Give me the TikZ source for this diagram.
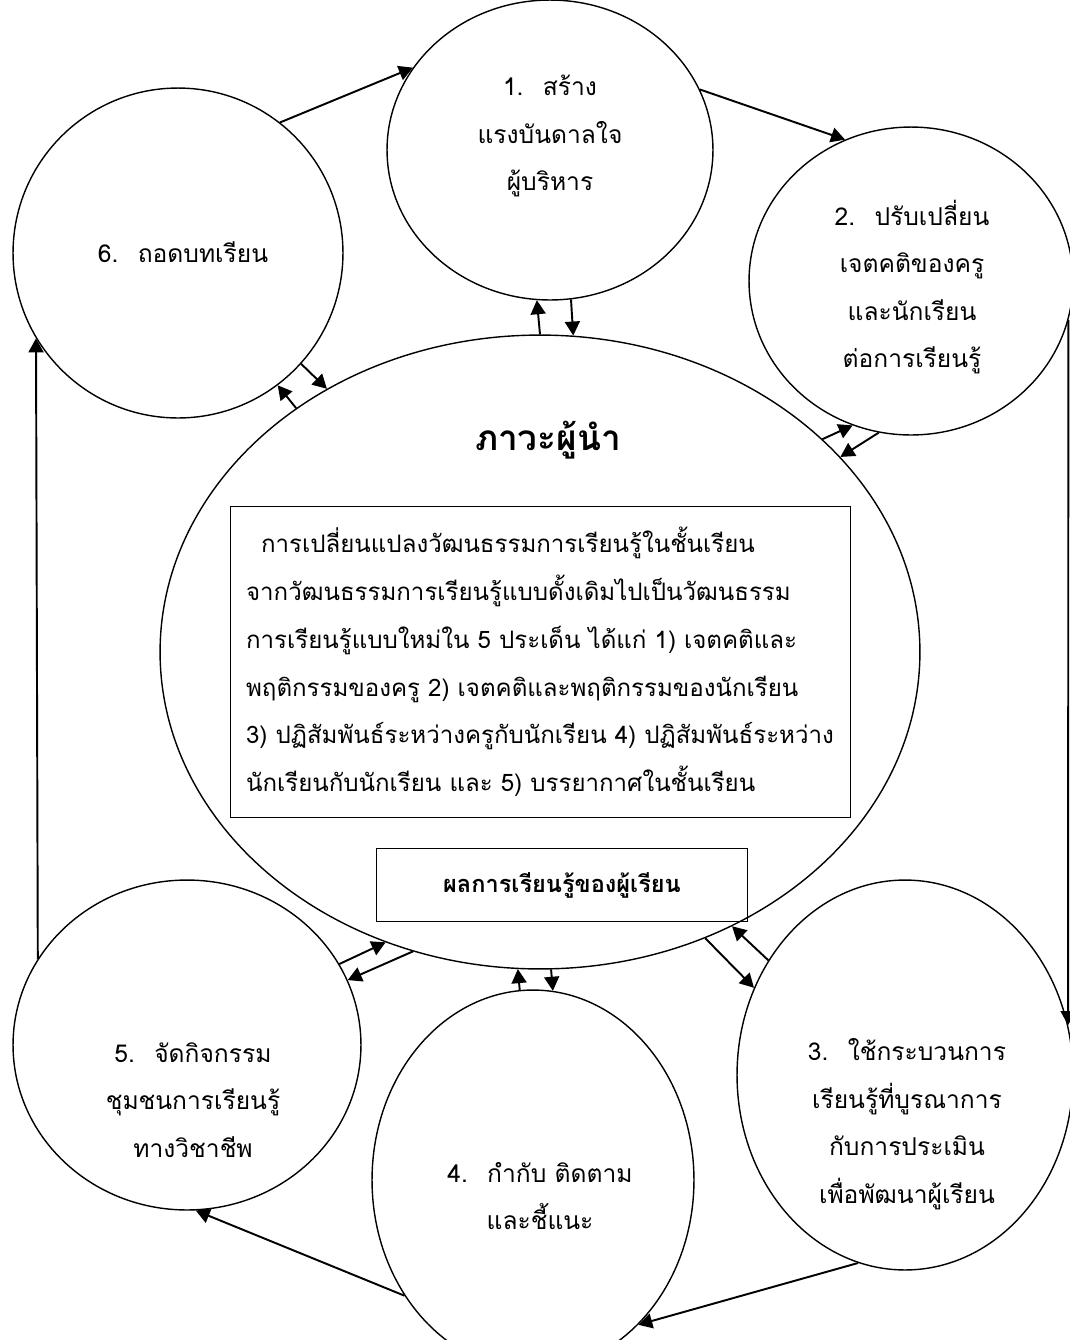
\documentclass[tikz,border=0pt]{standalone}
\usepackage{fontspec}
\newfontfamily\thaifont[Script=Thai]{Loma}
\usetikzlibrary{shapes.geometric, arrows.meta, positioning}

\begin{document}
\begin{tikzpicture}[
    x=0.02cm, y=-0.02cm,
    bubble/.style={ellipse, draw, line width=0.8pt, inner sep=0pt},
    arrow/.style={-{Triangle[length=8pt,width=8.5pt]}, line width=1.1pt},
    caption/.style={font=\fontsize{14}{27}\selectfont\thaifont, align=center},
    panel/.style={rectangle, draw, line width=0.5pt, inner sep=0pt}
]
    \useasboundingbox (0,0) rectangle (1070,1340);

    % circles
    \node[bubble, minimum width=6.52cm, minimum height=6.0cm] (c1) at (550,150) {};
    \node[bubble, minimum width=6.48cm, minimum height=6.16cm] (c2) at (911,281) {};
    \node[bubble, minimum width=6.72cm, minimum height=7.8cm] (c3) at (905,1075) {};
    \node[bubble, minimum width=6.44cm, minimum height=7.6cm] (c4) at (533,1180) {};
    \node[bubble, minimum width=6.96cm, minimum height=6.6cm] (c5) at (187,1045) {};
    \node[bubble, minimum width=6.6cm, minimum height=6.6cm] (c6) at (178,253) {};
    \node[bubble, minimum width=15.2cm, minimum height=12.68cm] (lead) at (540,652) {};

    % texts of the circles
    \node[caption] (t1) at (550,136) {1.~ สร้าง\\แรงบันดาลใจ\\ผู้บริหาร};
    \node[caption] (t2) at (912,287) {2.~ ปรับเปลี่ยน\\เจตคติของครู\\และนักเรียน\\ต่อการเรียนรู้};
    \node[caption] (t3) at (907,1124) {3.~ ใช้กระบวนการ\\เรียนรู้ที่บูรณาการ\\กับการประเมิน\\เพื่อพัฒนาผู้เรียน};
    \node[caption] (t4) at (540,1196) {4.~ กำกับ ติดตาม\\และชี้แนะ};
    \node[caption] (t5) at (193,1100) {5.~ จัดกิจกรรม\\ชุมชนการเรียนรู้\\ทางวิชาชีพ};
    \node[caption] (t6) at (183,252) {6.~ ถอดบทเรียน};

    \node[font=\fontsize{20}{24}\selectfont\thaifont\bfseries] (title) at (548,440) {ภาวะผู้นำ};
    \node[panel, caption, font=\fontsize{13.7}{27.2}\selectfont\thaifont, align=left, minimum width=12.4cm, minimum height=6.22cm] (culture) at (540,662)
        {\hspace{0.3cm}การเปลี่ยนแปลงวัฒนธรรมการเรียนรู้ในชั้นเรียน\\
         จากวัฒนธรรมการเรียนรู้แบบดั้งเดิมไปเป็นวัฒนธรรม\\
         การเรียนรู้แบบใหม่ใน 5 ประเด็น ได้แก่ 1) เจตคติและ\\
         พฤติกรรมของครู 2) เจตคติและพฤติกรรมของนักเรียน\\
         3) ปฏิสัมพันธ์ระหว่างครูกับนักเรียน 4) ปฏิสัมพันธ์ระหว่าง\\
         นักเรียนกับนักเรียน และ 5) บรรยากาศในชั้นเรียน};
    \node[panel, font=\fontsize{13.4}{16}\selectfont\thaifont\bfseries, minimum width=7.42cm, minimum height=1.46cm] (result) at (562,885)
        {ผลการเรียนรู้ของผู้เรียน};

    % outer cycle
    \draw[arrow] (c6.52.7) -- (c1.149.4);
    \draw[arrow] (c1.22.8) -- (c2.115);
    \draw[arrow] (c2.-14.9) -- (c3.17.7);
    \draw[arrow] (c3.-104.3) -- (c4.-54.1);
    \draw[arrow] (c4.222.4) -- (c5.-87.9);
    \draw[arrow] (c5.150.9) -- (c6.211.3);

    % links with the centre
    \draw[arrow] (lead.90.9) -- (c1.-95.8);
    \draw[arrow] (c1.-82.3) -- (lead.84.6);
    \draw[arrow] (lead.135.1) -- (c6.-53.4);
    \draw[arrow] (c6.-42.6) -- (lead.129.9);
    \draw[arrow] (lead.37.3) -- (c2.-112.9);
    \draw[arrow] (c2.-102.7) -- (lead.33.7);
    \draw[arrow] (lead.-60) -- (c3.150);
    \draw[arrow] (c3.140) -- (lead.-55);
    \draw[arrow] (c4.94.8) -- (lead.-94.1);
    \draw[arrow] (lead.-88.2) -- (c4.84.9);
    \draw[arrow] (c5.28) -- (lead.-118);
    \draw[arrow] (lead.-113) -- (c5.22);
\end{tikzpicture}
\end{document}
